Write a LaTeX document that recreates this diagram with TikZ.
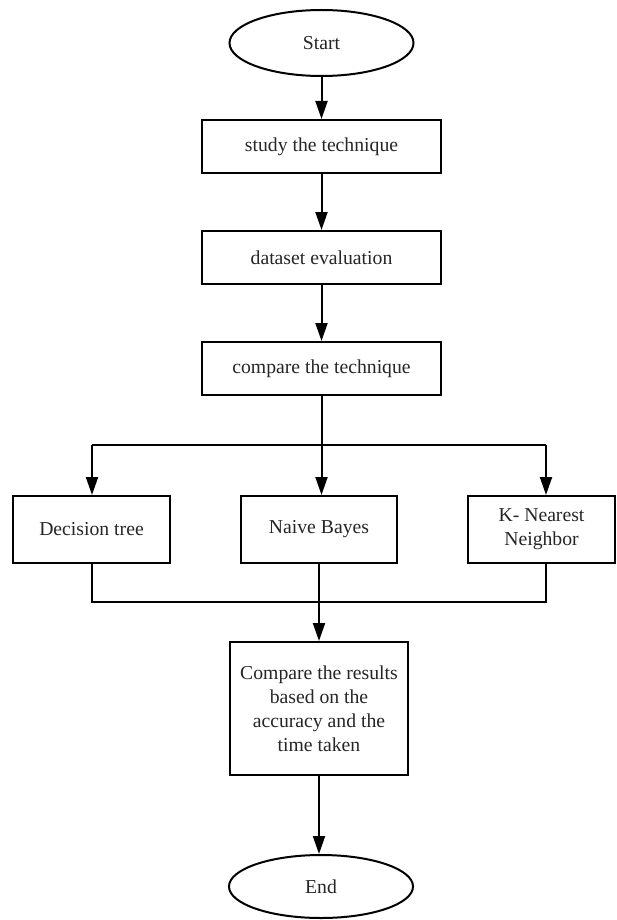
\documentclass[tikz,border=0pt]{standalone}
\usepackage{fontspec}
\setmainfont{Liberation Serif}
\usetikzlibrary{arrows.meta,shapes.geometric}
\begin{document}
\begin{tikzpicture}[x=1pt,y=1pt,
  every node/.style={font=\fontsize{19.7}{24}\selectfont, text=black!85},
  boxnode/.style={draw,line width=2pt,rectangle,inner sep=0pt,align=center},
  ovalnode/.style={draw,line width=2pt,ellipse,inner sep=0pt},
  conn/.style={line width=2pt},
  arr/.style={conn,-{Triangle[length=18pt,width=12pt]}}]
\useasboundingbox (0,0) rectangle (616,-920);
\fill[white] (0,0) rectangle (616,-920);

\node[ovalnode,minimum width=184pt,minimum height=66pt] (start) at (321.5,-43) {Start};
\node[boxnode,minimum width=239pt,minimum height=53pt] (b1) at (321.5,-146.5) {study the technique};
\node[boxnode,minimum width=239pt,minimum height=53pt] (b2) at (321.5,-257.5) {dataset evaluation};
\node[boxnode,minimum width=239pt,minimum height=53pt] (b3) at (321.5,-368.5) {compare the technique};

\node[boxnode,minimum width=157pt,minimum height=67pt] (dt) at (91.5,-529.5) {Decision tree};
\node[boxnode,minimum width=156pt,minimum height=67pt] (nb) at (319,-529.5) {Naive Bayes};
\node[boxnode,minimum width=147pt,minimum height=67pt] (knn) at (541.5,-529.5) {K- Nearest\\Neighbor};

\node[boxnode,minimum width=178pt,minimum height=133pt] (cr) at (319,-708.5) {Compare the results\\based on the\\accuracy and the\\time taken};
\node[ovalnode,minimum width=184pt,minimum height=63pt] (end) at (321,-886.5) {End};

\coordinate (jL) at (92,-445);
\coordinate (jM) at (321.5,-445);
\coordinate (jR) at (546,-445);
\coordinate (mL) at (92,-602);
\coordinate (mM) at (319,-602);
\coordinate (mR) at (546,-602);

\draw[arr] (start.south) -- (start.south |- b1.north);
\draw[arr] (b1.south) -- (b1.south |- b2.north);
\draw[arr] (b2.south) -- (b2.south |- b3.north);

\draw[conn] (b3.south) -- (jM);
\draw[conn] (jL) -- (jR);
\draw[arr] (jL) -- (jL |- dt.north);
\draw[arr] (jM) -- (jM |- nb.north);
\draw[arr] (jR) -- (jR |- knn.north);

\draw[conn] (mL |- dt.south) -- (mL) -- (mR) -- (mR |- knn.south);
\draw[conn] (nb.south) -- (mM);
\draw[arr] (mM) -- (mM |- cr.north);
\draw[arr] (cr.south) -- (cr.south |- end.north);
\end{tikzpicture}
\end{document}
